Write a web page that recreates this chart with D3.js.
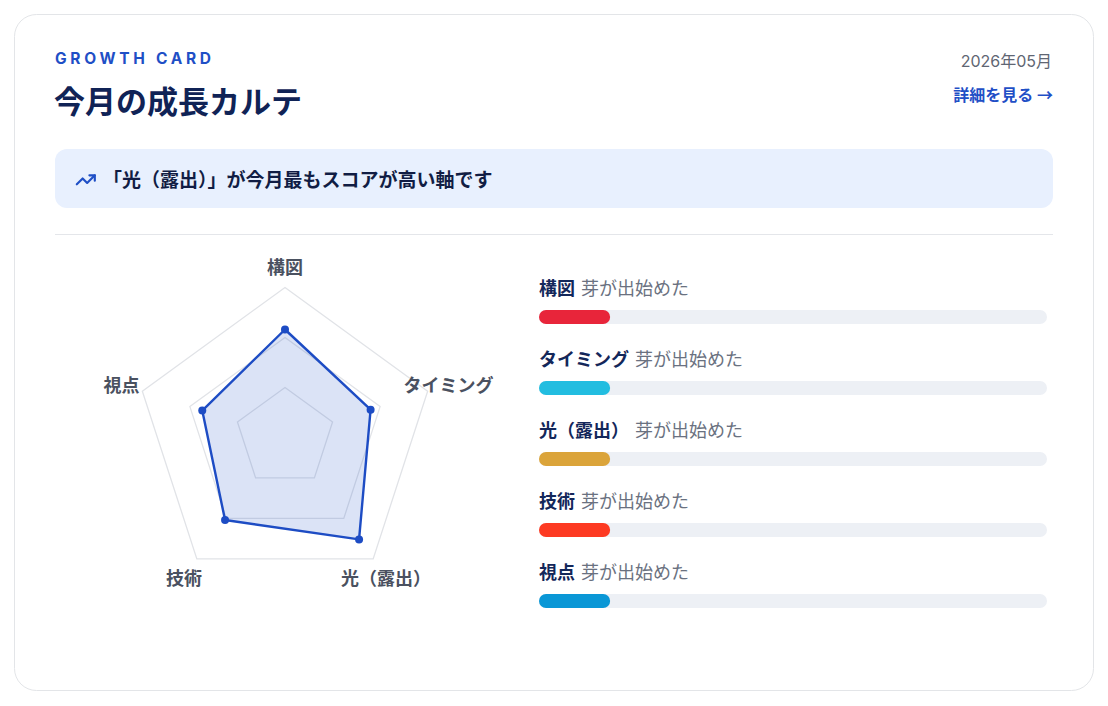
<!DOCTYPE html>
<html><head><meta charset="utf-8">
<script src="https://cdn.jsdelivr.net/npm/d3@7"></script>
<style>
html,body{margin:0;padding:0;background:#fff;}
svg{display:block;font-family:"Inter","Noto Sans CJK JP",sans-serif;}
</style></head><body>
<svg id="c" width="1108" height="706"></svg>
<script>
// ---- data ----
const axes = ["構図", "タイミング", "光（露出）", "技術", "視点"];
const scores = [72, 60, 84, 68, 58];
const scoreMax = 100;
const gridLevels = [1/3, 2/3, 1];
const barValues = [14, 14, 14, 14, 14];
const barMax = 100;
const barStatus = ["芽が出始めた", "芽が出始めた", "芽が出始めた", "芽が出始めた", "芽が出始めた"];
const barColors = ["#e8253a", "#22bde0", "#dba43a", "#fd3a22", "#0a97d6"];
const eyebrow = "GROWTH CARD";
const title = "今月の成長カルテ";
const dateLabel = "2026年05月";
const linkLabel = "詳細を見る →";
const insight = "「光（露出）」が今月最もスコアが高い軸です";

const svg = d3.select("#c");
const CJK = '"Noto Sans CJK JP","Inter",sans-serif';

// card
svg.append("rect").attr("x",14.5).attr("y",14.5).attr("width",1079).attr("height",676)
  .attr("rx",22).attr("fill","#fff").attr("stroke","#e3e5e8").attr("stroke-width",1);

// header
svg.append("text").attr("x",55).attr("y",64).text(eyebrow)
  .attr("font-family",'"Inter",sans-serif').attr("font-size",15.5).attr("font-weight",700)
  .attr("letter-spacing","3.7px").attr("fill","#1f4fc6");
svg.append("text").attr("x",54).attr("y",113).text(title)
  .attr("font-family",CJK).attr("font-size",31).attr("font-weight",700).attr("fill","#102356");
svg.append("text").attr("x",1052).attr("y",67).attr("text-anchor","end").text(dateLabel)
  .attr("font-family",'"Inter","Noto Sans CJK JP",sans-serif').attr("font-size",16).attr("fill","#5f6673");
svg.append("text").attr("x",1053).attr("y",101).attr("text-anchor","end").text(linkLabel)
  .attr("font-family",CJK).attr("font-size",16).attr("font-weight",700).attr("fill","#1f4fc6");

// banner
svg.append("rect").attr("x",55).attr("y",149).attr("width",998).attr("height",59).attr("rx",12).attr("fill","#e8f0fe");
const icon = svg.append("g").attr("transform","translate(75,169) scale(0.9)")
  .attr("fill","none").attr("stroke","#1f4fc6").attr("stroke-width",2.4)
  .attr("stroke-linecap","round").attr("stroke-linejoin","round");
icon.append("polyline").attr("points","22 7 13.5 15.5 8.5 10.5 2 17");
icon.append("polyline").attr("points","16 7 22 7 22 13");
svg.append("text").attr("x",103).attr("y",186.5).text(insight)
  .attr("font-family",CJK).attr("font-size",19).attr("font-weight",700).attr("fill","#111d44");

// divider
svg.append("line").attr("x1",55).attr("x2",1053).attr("y1",234.5).attr("y2",234.5).attr("stroke","#e4e6ea");

// radar
const cx = 285, cy = 437.5, R = 150;
const n = axes.length;
const ang = d3.scaleLinear().domain([0,n]).range([0, 2*Math.PI]);
const r = d3.scaleLinear().domain([0, scoreMax]).range([0, R]);
const pt = (i, rad) => [cx + rad*Math.sin(ang(i)), cy - rad*Math.cos(ang(i))];
const line = d3.line().curve(d3.curveLinearClosed);

const rg = svg.append("g");
gridLevels.forEach(l => {
  rg.append("path").attr("d", line(d3.range(n).map(i => pt(i, r(l*scoreMax)))))
    .attr("fill","none").attr("stroke","#e1e3e7").attr("stroke-width",1.3);
});
const dataPts = scores.map((v,i) => pt(i, r(v)));
rg.append("path").attr("d", line(dataPts)).attr("fill","rgba(31,79,198,0.16)")
  .attr("stroke","#1d4cc4").attr("stroke-width",2.4).attr("stroke-linejoin","round");
rg.selectAll("circle").data(dataPts).join("circle")
  .attr("cx",d=>d[0]).attr("cy",d=>d[1]).attr("r",4).attr("fill","#1d4cc4");
rg.selectAll("text.ax").data(axes).join("text").attr("class","ax")
  .attr("x",(d,i)=>pt(i,172)[0]).attr("y",(d,i)=>pt(i,172)[1])
  .attr("text-anchor","middle").attr("dominant-baseline","central")
  .attr("font-family",CJK).attr("font-size",18).attr("font-weight",700).attr("fill","#4a5160")
  .text(d=>d);

// bars
const bx0 = 539, bx1 = 1047;
const x = d3.scaleLinear().domain([0, barMax]).range([bx0, bx1]);
const step = 71, barTop = 310, bh = 14;
axes.forEach((name, i) => {
  const g = svg.append("g");
  const y0 = barTop + i*step;
  const nm = g.append("text").attr("x",bx0).attr("y",y0-15.5).text(name)
    .attr("font-family",CJK).attr("font-size",18).attr("font-weight",700).attr("fill","#13275a");
  const w = nm.node().getComputedTextLength();
  g.append("text").attr("x",bx0 + w + 6).attr("y",y0-15.5).text(barStatus[i])
    .attr("font-family",CJK).attr("font-size",18).attr("fill","#6a7180");
  g.append("rect").attr("x",bx0).attr("y",y0).attr("width",x(barMax)-bx0).attr("height",bh)
    .attr("rx",bh/2).attr("fill","#edf0f5");
  g.append("rect").attr("x",bx0).attr("y",y0).attr("width",x(barValues[i])-bx0).attr("height",bh)
    .attr("rx",bh/2).attr("fill",barColors[i]);
});
</script>
</body></html>
